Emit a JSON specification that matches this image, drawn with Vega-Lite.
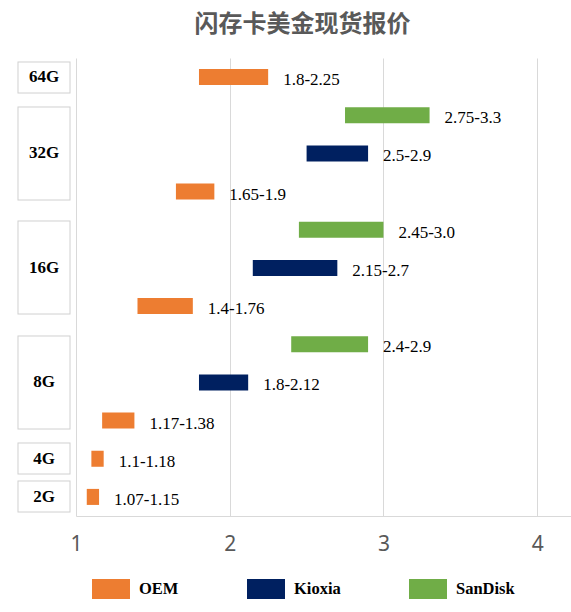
{
  "$schema": "https://vega.github.io/schema/vega-lite/v6.json",
  "autosize": {"type": "none"},
  "width": 495,
  "height": 458,
  "padding": {"left": 76, "top": 58, "right": 0, "bottom": 96},
  "background": "white",
  "title": {
    "text": "闪存卡美金现货报价",
    "font": "Noto Sans CJK SC",
    "fontSize": 24,
    "fontWeight": "bold",
    "color": "#595959",
    "anchor": "middle",
    "dx": -21,
    "offset": 21
  },
  "data": {
    "values": [
      {"key": "64G OEM", "brand": "OEM", "low": 1.8, "high": 2.25, "label": "1.8-2.25"},
      {"key": "32G SanDisk", "brand": "SanDisk", "low": 2.75, "high": 3.3, "label": "2.75-3.3"},
      {"key": "32G Kioxia", "brand": "Kioxia", "low": 2.5, "high": 2.9, "label": "2.5-2.9"},
      {"key": "32G OEM", "brand": "OEM", "low": 1.65, "high": 1.9, "label": "1.65-1.9"},
      {"key": "16G SanDisk", "brand": "SanDisk", "low": 2.45, "high": 3.0, "label": "2.45-3.0"},
      {"key": "16G Kioxia", "brand": "Kioxia", "low": 2.15, "high": 2.7, "label": "2.15-2.7"},
      {"key": "16G OEM", "brand": "OEM", "low": 1.4, "high": 1.76, "label": "1.4-1.76"},
      {"key": "8G SanDisk", "brand": "SanDisk", "low": 2.4, "high": 2.9, "label": "2.4-2.9"},
      {"key": "8G Kioxia", "brand": "Kioxia", "low": 1.8, "high": 2.12, "label": "1.8-2.12"},
      {"key": "8G OEM", "brand": "OEM", "low": 1.17, "high": 1.38, "label": "1.17-1.38"},
      {"key": "4G OEM", "brand": "OEM", "low": 1.1, "high": 1.18, "label": "1.1-1.18"},
      {"key": "2G OEM", "brand": "OEM", "low": 1.07, "high": 1.15, "label": "1.07-1.15"}
    ]
  },
  "layer": [
    {
      "mark": {"type": "bar"},
      "encoding": {
        "y": {
          "field": "key",
          "type": "nominal",
          "sort": null,
          "scale": {
            "domain": ["64G OEM", "32G SanDisk", "32G Kioxia", "32G OEM", "16G SanDisk", "16G Kioxia", "16G OEM", "8G SanDisk", "8G Kioxia", "8G OEM", "4G OEM", "2G OEM"],
            "paddingInner": 0.58,
            "paddingOuter": 0.29
          },
          "axis": {
            "title": null,
            "orient": "left",
            "zindex": 0,
            "domain": false,
            "labels": false,
            "offset": 6,
            "values": ["64G OEM", "32G Kioxia", "16G Kioxia", "8G Kioxia", "4G OEM", "2G OEM"],
            "tickColor": "#d0d0d0",
            "tickSize": 53,
            "tickWidth": {"condition": {"test": "indexof(['32G Kioxia', '16G Kioxia', '8G Kioxia'], datum.value) >= 0", "value": 94}, "value": 32}
          }
        },
        "x": {
          "field": "low",
          "type": "quantitative",
          "scale": {"domain": [1, 4.22], "nice": false, "zero": false},
          "axis": {
            "title": null,
            "values": [1, 2, 3, 4],
            "format": "d",
            "grid": true,
            "gridColor": "#d9d9d9",
            "domainColor": "#d9d9d9",
            "ticks": false,
            "labelFlush": false,
            "labelFont": "Noto Sans",
            "labelFontSize": 21,
            "labelColor": "#595959",
            "labelPadding": 17
          }
        },
        "x2": {"field": "high"},
        "color": {
          "field": "brand",
          "type": "nominal",
          "scale": {"domain": ["OEM", "Kioxia", "SanDisk"], "range": ["#ED7D31", "#002060", "#70AD47"]},
          "legend": {
            "title": null,
            "orient": "none",
            "direction": "horizontal",
            "legendX": 16,
            "legendY": 512,
            "symbolType": "M-1,-0.526H1V0.526H-1Z",
            "symbolSize": 1444,
            "symbolStrokeWidth": 0,
            "symbolOpacity": 1,
            "labelFont": "Liberation Serif",
            "labelFontSize": 16.5,
            "labelFontWeight": "bold",
            "labelColor": "black",
            "labelOffset": 9,
            "columnPadding": 68
          }
        }
      }
    },
    {
      "mark": {"type": "text", "font": "Liberation Serif", "fontSize": 17, "color": "black", "align": "left", "baseline": "middle", "dx": 15, "dy": 3},
      "encoding": {
        "x": {"field": "high", "type": "quantitative"},
        "y": {
          "field": "key",
          "type": "nominal",
          "axis": {
            "title": null,
            "orient": "left",
            "zindex": 1,
            "domain": false,
            "offset": 7,
            "values": ["64G OEM", "32G Kioxia", "16G Kioxia", "8G Kioxia", "4G OEM", "2G OEM"],
            "tickColor": "white",
            "tickSize": 51,
            "tickWidth": {"condition": {"test": "indexof(['32G Kioxia', '16G Kioxia', '8G Kioxia'], datum.value) >= 0", "value": 92}, "value": 30},
            "labelExpr": "split(datum.value, ' ')[0]",
            "labelFont": "Liberation Serif",
            "labelFontSize": 17,
            "labelFontWeight": "bold",
            "labelColor": "black",
            "labelAlign": "center",
            "labelBaseline": "middle",
            "labelPadding": -25.5
          }
        },
        "text": {"field": "label"}
      }
    }
  ],
  "resolve": {"axis": {"y": "independent"}},
  "config": {
    "view": {"stroke": null}
  }
}
